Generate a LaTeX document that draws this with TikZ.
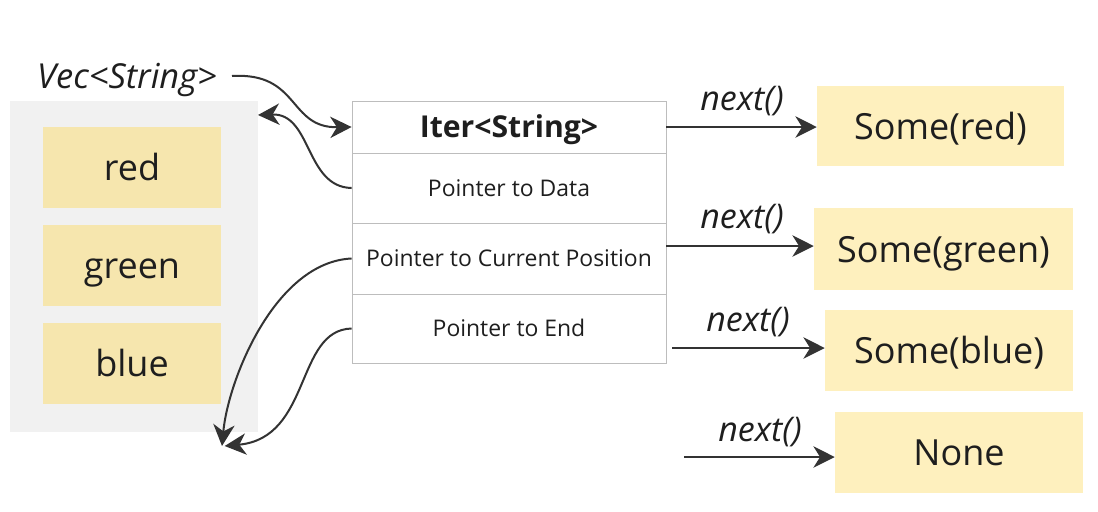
\documentclass[tikz,border=0pt]{standalone}
\usepackage{fontspec}
\setmainfont{Open Sans}
\usetikzlibrary{arrows.meta}
\definecolor{vecbg}{HTML}{F1F1F1}
\definecolor{itemc}{HTML}{F6E6AE}
\definecolor{optc}{HTML}{FEF0BE}
\definecolor{tblc}{HTML}{BDBDBD}
\definecolor{arr}{HTML}{333333}
\definecolor{txt}{HTML}{1E1E1E}
\tikzset{
  bigtext/.style={text=txt, font=\fontsize{27}{31}\selectfont, text height=20pt, text depth=0pt},
  itembox/.style={bigtext, fill=itemc, draw=none, minimum width=133.5pt, minimum height=60.75pt, inner sep=0pt},
  optbox/.style={bigtext, fill=optc, draw=none, inner sep=0pt},
  row/.style={draw=tblc, line width=0.6pt, fill=white, minimum width=235.5pt, inner sep=0pt, text=txt, font=\fontsize{17.2}{20}\selectfont, text height=12pt, text depth=0pt},
  lbl/.style={text=txt, font=\itshape\fontsize{25.5}{29}\selectfont, inner sep=0pt},
  conn/.style={draw=arr, line width=1.5pt, -{Stealth[length=16pt,width=16pt,inset=5pt]}},
}
\begin{document}
\begin{tikzpicture}[x=0.75pt,y=-0.75pt]
\useasboundingbox (0,0) rectangle (1098,511);
% Vec container
\node[fill=vecbg, minimum width=186pt, minimum height=248.25pt, inner sep=0pt] (vec) at (134,266.5) {};
\node[itembox] (red) at (132,167.5) {red};
\node[itembox] (green) at (132,265.5) {green};
\node[itembox] (blue) at (132,363.5) {blue};
\node[lbl, font=\itshape\fontsize{25.8}{29}\selectfont] (veclbl) at (127,80) {Vec<String>};
% Iter table
\node[row, minimum height=39pt, font=\bfseries\fontsize{22.6}{26}\selectfont, text height=16pt] (hdr) at (509,127) {Iter<String>};
\node[row, minimum height=52.5pt] (pdata) at (509,188) {Pointer to Data};
\node[row, minimum height=53.25pt] (pcur) at (509,258.5) {Pointer to Current Position};
\node[row, minimum height=51.75pt] (pend) at (509,328.5) {Pointer to End};
% option boxes
\node[optbox, minimum width=185.25pt, minimum height=60pt] (sred) at (940.5,126) {Some(red)};
\node[optbox, minimum width=194.25pt, minimum height=61.5pt] (sgreen) at (943.5,249) {Some(green)};
\node[optbox, minimum width=186pt, minimum height=60.75pt] (sblue) at (949,350.5) {Some(blue)};
\node[optbox, minimum width=186pt, minimum height=60.75pt] (none) at (959,452.5) {None};
% next() arrows
\coordinate (s2) at (666,246);
\coordinate (s3) at (672,348);
\coordinate (s4) at (684,457);
\draw[conn] (hdr.east) -- (sred.west |- hdr.east);
\draw[conn] (s2) -- (sgreen.west |- s2);
\draw[conn] (s3) -- (sblue.west |- s3);
\draw[conn] (s4) -- (none.west |- s4);
\node[lbl] (n1) at (742,101) {next()};
\node[lbl] (n2) at (742,219) {next()};
\node[lbl] (n3) at (748,322) {next()};
\node[lbl] (n4) at (760,432) {next()};
% curved pointers
\coordinate (vtop) at (258,115);
\coordinate (vend) at (222,446);
\draw[conn] (232,76) .. controls (300,72) and (288,128) .. (hdr.west);
\draw[conn] (pdata.west) .. controls (305,187) and (312,113) .. (vtop);
\draw[conn] (pcur.west) .. controls (275,262) and (228,380) .. (vend);
\draw[conn] (pend.west) .. controls (295,330) and (312,438) .. ([xshift=2]vend);
\end{tikzpicture}
\end{document}
